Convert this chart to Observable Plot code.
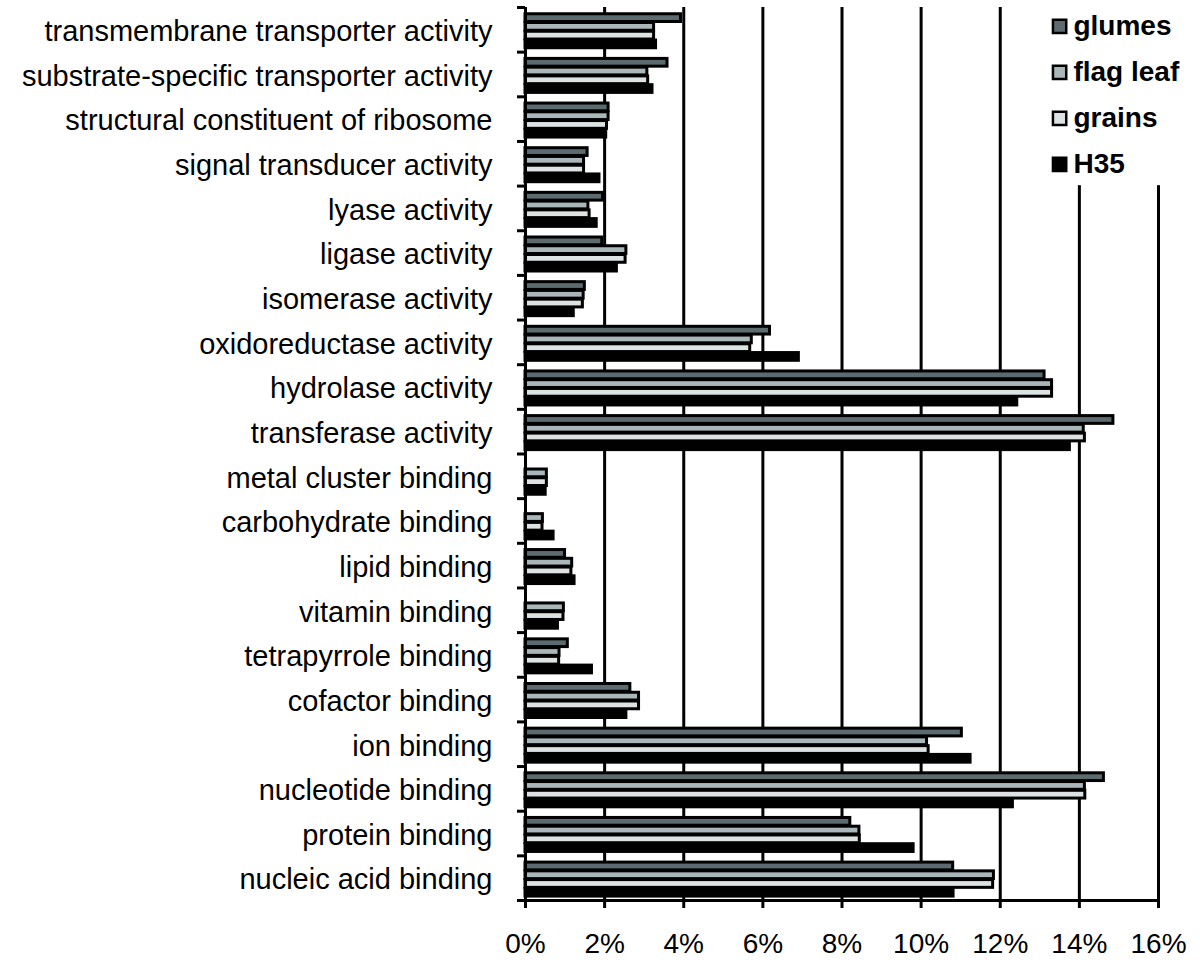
<!DOCTYPE html>
<html>
<head>
<meta charset="utf-8">
<script src="https://cdn.jsdelivr.net/npm/d3@7"></script>
<script src="https://cdn.jsdelivr.net/npm/@observablehq/plot@0.6"></script>
<style>
  html, body { margin: 0; padding: 0; background: white; }
</style>
</head>
<body>
<div id="chart"></div>
<script>
// Categories, top to bottom
const categories = [
  "transmembrane transporter activity",
  "substrate-specific transporter activity",
  "structural constituent of ribosome",
  "signal transducer activity",
  "lyase activity",
  "ligase activity",
  "isomerase activity",
  "oxidoreductase activity",
  "hydrolase activity",
  "transferase activity",
  "metal cluster binding",
  "carbohydrate binding",
  "lipid binding",
  "vitamin binding",
  "tetrapyrrole binding",
  "cofactor binding",
  "ion binding",
  "nucleotide binding",
  "protein binding",
  "nucleic acid binding"
];

const series = ["glumes", "flag leaf", "grains", "H35"];
const seriesColors = ["#5c6b6f", "#a9b7ba", "#dde3e2", "#000000"];

// Percent values (null = no bar)
const glumes   = [3.93, 3.59, 2.10, 1.57, 1.96, 1.94, 1.50, 6.18, 13.12, 14.86, null, null, 1.00, null, 1.07, 2.65, 11.03, 14.62, 8.21, 10.81];
const flagLeaf = [3.25, 3.08, 2.10, 1.48, 1.59, 2.55, 1.47, 5.72, 13.31, 14.11, 0.54, 0.44, 1.18, 0.97, 0.86, 2.87, 10.15, 14.14, 8.44, 11.84];
const grains   = [3.25, 3.10, 2.06, 1.48, 1.62, 2.53, 1.45, 5.68, 13.31, 14.14, 0.54, 0.43, 1.16, 0.96, 0.85, 2.87, 10.19, 14.15, 8.45, 11.82];
const h35      = [3.30, 3.21, 2.04, 1.87, 1.80, 2.31, 1.22, 6.91, 12.43, 13.76, 0.51, 0.71, 1.24, 0.82, 1.68, 2.55, 11.25, 12.32, 9.81, 10.82];

const xTicks = [0, 2, 4, 6, 8, 10, 12, 14, 16];

const seriesValues = [glumes, flagLeaf, grains, h35];
const rows = categories.flatMap((c, i) =>
  series.map((s, j) => ({category: c, index: i, series: s, slot: j, value: seriesValues[j][i]}))
).filter(d => d.value != null);

const groupStart = 0.14;
const slotH = 0.196;

const chart = Plot.plot({
  width: 1200,
  height: 975,
  marginLeft: 525,
  marginRight: 42,
  marginTop: 7,
  marginBottom: 75,
  style: {fontFamily: "'Liberation Sans', Arial, sans-serif", background: "white", color: "black"},
  x: {domain: [0, 16]},
  y: {domain: [0, categories.length], reverse: true},
  color: {domain: series, range: seriesColors},
  marks: [
    Plot.ruleX(xTicks.filter(t => t > 0), {stroke: "black", strokeWidth: 3}),
    // legend background
    Plot.rect([0], {x1: 13.1, x2: 16.9, y1: 0, y2: 3.99, fill: "white"}),
    Plot.rect(rows, {
      x1: 0,
      x2: "value",
      y1: d => d.index + groupStart + d.slot * slotH,
      y2: d => d.index + groupStart + (d.slot + 1) * slotH,
      fill: "series",
      stroke: "black",
      strokeWidth: 3,
      insetTop: 0.5,
      insetBottom: 0.5
    }),
    Plot.ruleX([0], {stroke: "black", strokeWidth: 3}),
    Plot.ruleY([categories.length], {stroke: "black", strokeWidth: 3, insetLeft: -8}),
    Plot.axisY({ticks: d3.range(0, categories.length + 1), tickSize: 8, tickFormat: () => "", strokeWidth: 3, label: null}),
    Plot.axisY({
      ticks: d3.range(categories.length).map(i => i + 0.5),
      tickSize: 0,
      tickPadding: 33,
      tickFormat: v => categories[Math.floor(v)],
      fontSize: 29,
      dy: 2,
      label: null
    }),
    Plot.axisX({ticks: xTicks, tickSize: 8, tickPadding: 25, tickFormat: d => d + "%", fontSize: 28, strokeWidth: 3, label: null}),
    // legend
    Plot.dot(series, {x: 13.5, y: (d, i) => 0.425 + i * 1.03, symbol: "square", r: 7.5, fill: d => d, stroke: "black", strokeWidth: 2.5}),
    Plot.text(series, {x: 13.85, y: (d, i) => 0.425 + i * 1.03, text: d => d, textAnchor: "start", fontSize: 28, fontWeight: "bold", fill: "black"})
  ]
});

document.getElementById("chart").appendChild(chart);
</script>
</body>
</html>
